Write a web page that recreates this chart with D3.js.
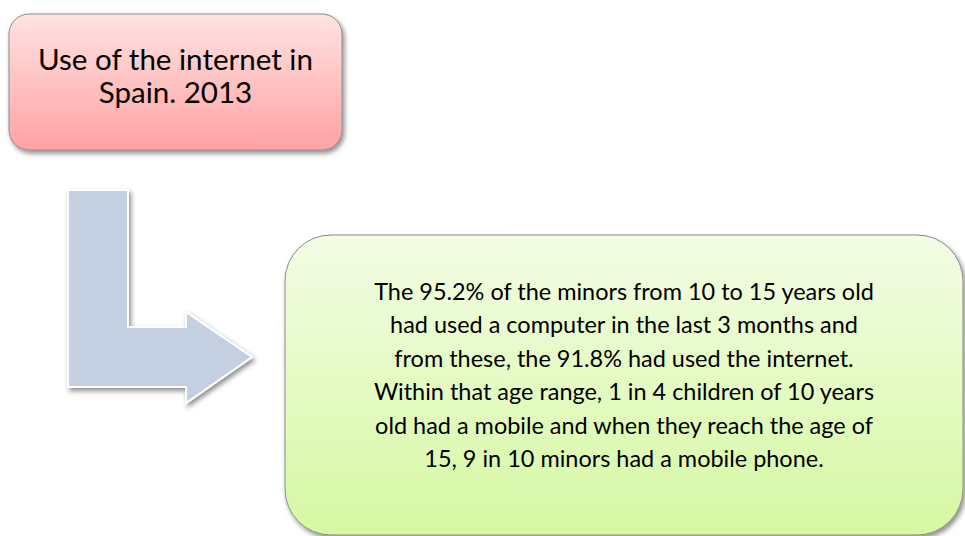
<!DOCTYPE html>
<html>
<head>
  <meta charset="utf-8">
  <title>Use of the internet in Spain. 2013</title>
  <script src="https://d3js.org/d3.v7.min.js"></script>
  <style>
    body { margin: 0; background: #fff; }
    svg { display: block; }
    .label { font-family: Lato, "Open Sans", sans-serif; fill: #000; }
  </style>
</head>
<body>
  <svg id="chart"></svg>

  <script>
    // Texts
    const titleLines = ["Use of the internet in", "Spain. 2013"];
    const bodyLines = [
      "The 95.2% of the minors from 10 to 15 years old",
      "had used a computer in the last 3 months and",
      "from these, the 91.8% had used the internet.",
      "Within that age range, 1 in 4 children of 10 years",
      "old had a mobile and when they reach the age of",
      "15, 9 in 10 minors had a mobile phone."
    ];

    const width = 965;
    const height = 536;

    const svg = d3.select("#chart")
                  .attr("width", width)
                  .attr("height", height);

    const defs = svg.append("defs");

    // soft drop shadow
    const shadow = defs.append("filter")
                       .attr("id", "shadow")
                       .attr("x", "-10%").attr("y", "-10%")
                       .attr("width", "130%").attr("height", "130%");
    shadow.append("feDropShadow")
          .attr("dx", 2).attr("dy", 3)
          .attr("stdDeviation", 2.5)
          .attr("flood-color", "#000")
          .attr("flood-opacity", 0.45);

    function gradient(id, top, bottom) {
      const g = defs.append("linearGradient")
                    .attr("id", id)
                    .attr("x1", 0).attr("y1", 0)
                    .attr("x2", 0).attr("y2", 1);
      g.append("stop").attr("offset", "0%").attr("stop-color", top);
      g.append("stop").attr("offset", "100%").attr("stop-color", bottom);
    }
    gradient("redFill", "#ffe3e3", "#ffa2a2");
    gradient("greenFill", "#f2fde4", "#d6f8a2");

    // Title box
    const titleBox = { x: 9, y: 14, w: 333, h: 136, r: 20 };
    svg.append("rect")
       .attr("x", titleBox.x).attr("y", titleBox.y)
       .attr("width", titleBox.w).attr("height", titleBox.h)
       .attr("rx", titleBox.r)
       .attr("fill", "url(#redFill)")
       .attr("stroke", "#8c8c8c")
       .attr("stroke-width", 1)
       .attr("filter", "url(#shadow)");

    // Bent arrow
    const arrow = d3.path();
    arrow.moveTo(68, 190);
    arrow.lineTo(128, 190);
    arrow.lineTo(128, 327);
    arrow.lineTo(186, 327);
    arrow.lineTo(186, 312);
    arrow.lineTo(252, 357);
    arrow.lineTo(186, 403);
    arrow.lineTo(186, 387);
    arrow.lineTo(68, 387);
    arrow.closePath();
    svg.append("path")
       .attr("d", arrow.toString())
       .attr("fill", "#c4cfe2")
       .attr("stroke", "#fff")
       .attr("stroke-width", 2)
       .attr("stroke-linejoin", "miter")
       .attr("filter", "url(#shadow)");

    // Body box
    const bodyBox = { x: 285, y: 235, w: 678, h: 300, r: 46 };
    svg.append("rect")
       .attr("x", bodyBox.x).attr("y", bodyBox.y)
       .attr("width", bodyBox.w).attr("height", bodyBox.h)
       .attr("rx", bodyBox.r)
       .attr("fill", "url(#greenFill)")
       .attr("stroke", "#8c8c8c")
       .attr("stroke-width", 1)
       .attr("filter", "url(#shadow)");

    // Text blocks; font size fitted to the width of a reference line
    function textBlock(lines, cx, firstBaseline, lineStep, refWidth) {
      const y = d3.scaleLinear()
                  .domain([0, 1])
                  .range([firstBaseline, firstBaseline + lineStep]);
      const t = svg.append("g").attr("class", "label");
      const items = t.selectAll("text")
                     .data(lines)
                     .enter()
                     .append("text")
                     .attr("x", cx)
                     .attr("y", (d, i) => y(i))
                     .attr("text-anchor", "middle")
                     .style("font-size", "24px")
                     .text(d => d);
      const w = items.node().getComputedTextLength();
      items.style("font-size", (24 * refWidth / w) + "px");
    }

    textBlock(titleLines, titleBox.x + titleBox.w / 2, 70, 33, 275);
    textBlock(bodyLines, bodyBox.x + bodyBox.w / 2, 300, 33.4, 500);
  </script>
</body>
</html>
